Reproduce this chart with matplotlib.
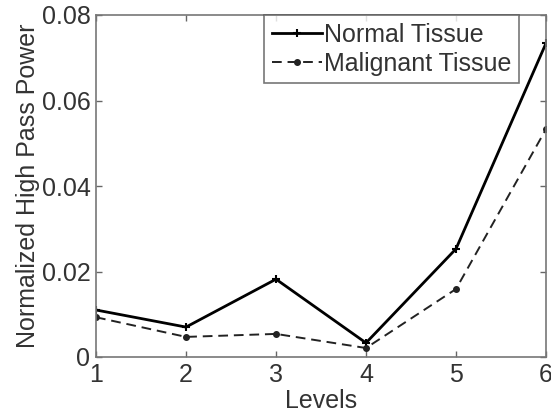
import matplotlib.pyplot as plt

plt.rcParams['font.family'] = ['Liberation Sans', 'DejaVu Sans']

# Data
levels = [1, 2, 3, 4, 5, 6]
normal = [0.0110, 0.0070, 0.0182, 0.0033, 0.0253, 0.0734]
malignant = [0.0093, 0.0047, 0.0054, 0.0021, 0.0159, 0.0533]
yticks = [0, 0.02, 0.04, 0.06, 0.08]
yticklabels = ['0', '0.02', '0.04', '0.06', '0.08']

fig = plt.figure(figsize=(5.51, 4.13), dpi=100)
ax = fig.add_axes([96 / 551, 1 - 357 / 413, 450 / 551, 342 / 413])

ax.plot(levels, normal, color='black', linewidth=2, linestyle='-',
        marker='+', markersize=6, markeredgewidth=1.5, label='Normal Tissue')
ax.plot(levels, malignant, color='#222222', linewidth=1.4, linestyle=(0, (5, 3)),
        marker='.', markersize=8, label='Malignant Tissue')

ax.set_xlim(1, 6)
ax.set_ylim(0, 0.08)
ax.set_xticks(levels)
ax.set_yticks(yticks)
ax.set_yticklabels(yticklabels)

txt = '#333333'
ax.tick_params(direction='in', top=True, right=True, length=4, width=1,
               colors='#666666', labelcolor=txt, labelsize=18, pad=4)
for s in ax.spines.values():
    s.set_color('#777777')
    s.set_linewidth(1.2)

ax.set_xlabel('Levels', fontsize=18, color=txt, labelpad=2)
ax.set_ylabel('Normalized High Pass Power', fontsize=18, color=txt, labelpad=1)

leg = ax.legend(loc='upper right', bbox_to_anchor=(0.94, 1.0), fontsize=18,
                frameon=True, fancybox=False, handlelength=2.0, handletextpad=0.1,
                borderpad=0.3, labelspacing=0.2, borderaxespad=0.0)
leg.get_frame().set_edgecolor('#555555')
leg.get_frame().set_linewidth(1.2)
for t in leg.get_texts():
    t.set_color(txt)

fig.savefig('out.png', dpi=100)
